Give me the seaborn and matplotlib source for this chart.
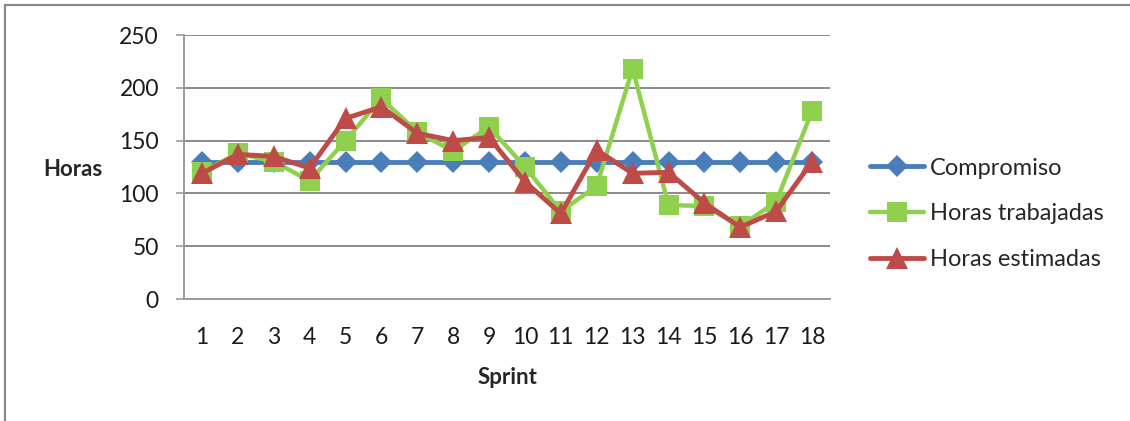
import matplotlib
matplotlib.use("Agg")
import matplotlib.pyplot as plt
from matplotlib.lines import Line2D
from matplotlib.ticker import FixedLocator, NullFormatter
import seaborn as sns

# datos
sprints = list(range(1, 19))
compromiso = [130, 130, 130, 130, 130, 130, 130, 130, 130, 130, 130, 130, 130, 130, 130, 130, 130, 130]
horas_trabajadas = [120, 138, 130, 112, 150, 190, 158, 140, 163, 125, 83, 107, 218, 89, 88, 69, 92, 178]
horas_estimadas = [119, 137, 135, 124, 171, 182, 157, 150, 153, 111, 81, 141, 119, 120, 91, 68, 83, 130]

sns.set_style("white")
plt.rcParams['font.family'] = ['Lato', 'DejaVu Sans']

fig = plt.figure(figsize=(11.3, 4.21), dpi=100)
ax = fig.add_axes([184 / 1130, 1 - 299 / 421, 646 / 1130, 264 / 421])

sns.lineplot(x=sprints, y=compromiso, ax=ax, color='#4A7EBB', linewidth=3.5,
             marker='D', markersize=11, markeredgewidth=0, label='Compromiso')
sns.lineplot(x=sprints, y=horas_trabajadas, ax=ax, color='#8FD14F', linewidth=3.2,
             marker='s', markersize=15, markeredgewidth=0, label='Horas trabajadas')
sns.lineplot(x=sprints, y=horas_estimadas, ax=ax, color='#BE4B48', linewidth=3.5,
             marker='^', markersize=16, markeredgewidth=0, label='Horas estimadas')

# ejes estilo Excel
ax.set_xlim(0.5, 18.5)
ax.set_ylim(0, 250)
ax.set_yticks([0, 50, 100, 150, 200, 250])
ax.set_xticks(sprints)
ax.xaxis.set_minor_locator(FixedLocator([i + 0.5 for i in range(0, 19)]))
ax.xaxis.set_minor_formatter(NullFormatter())
ax.tick_params(axis='x', which='major', length=0, pad=20, labelsize=16.5, labelcolor='#1a1a1a')
ax.tick_params(axis='x', which='minor', length=6, width=1.2, color='#9a9a9a', direction='out')
ax.tick_params(axis='y', length=6, width=1.2, color='#9a9a9a', pad=12, labelsize=16.5,
               labelcolor='#1a1a1a', left=True)

ax.grid(axis='y', color='#8a8a8a', linewidth=1.4)
ax.grid(axis='x', visible=False)
ax.set_axisbelow(True)
for side in ['top', 'right']:
    ax.spines[side].set_visible(False)
for side in ['left', 'bottom']:
    ax.spines[side].set_color('#9a9a9a')
    ax.spines[side].set_linewidth(1.4)

ax.set_xlabel('Sprint', fontsize=16, fontweight='bold', labelpad=14)
ax.set_ylabel('Horas', fontsize=16, fontweight='bold', rotation=0, va='center', ha='center')
ax.yaxis.set_label_coords(-0.172, 0.49)

leg = ax.legend(loc='center left', bbox_to_anchor=(870 / 1130, 1 - 214 / 421),
                bbox_transform=fig.transFigure, frameon=False, fontsize=17,
                handlelength=2.3, handletextpad=0.25, labelspacing=1.05,
                borderpad=0, borderaxespad=0)

# marco del gráfico
fig.add_artist(Line2D([5 / 1130, 1], [1 - 5 / 421, 1 - 5 / 421], transform=fig.transFigure,
                      color='#888888', linewidth=1.6))
fig.add_artist(Line2D([5 / 1130, 5 / 1130], [0, 1 - 5 / 421], transform=fig.transFigure,
                      color='#888888', linewidth=1.6))

fig.savefig('out.png', dpi=100)
